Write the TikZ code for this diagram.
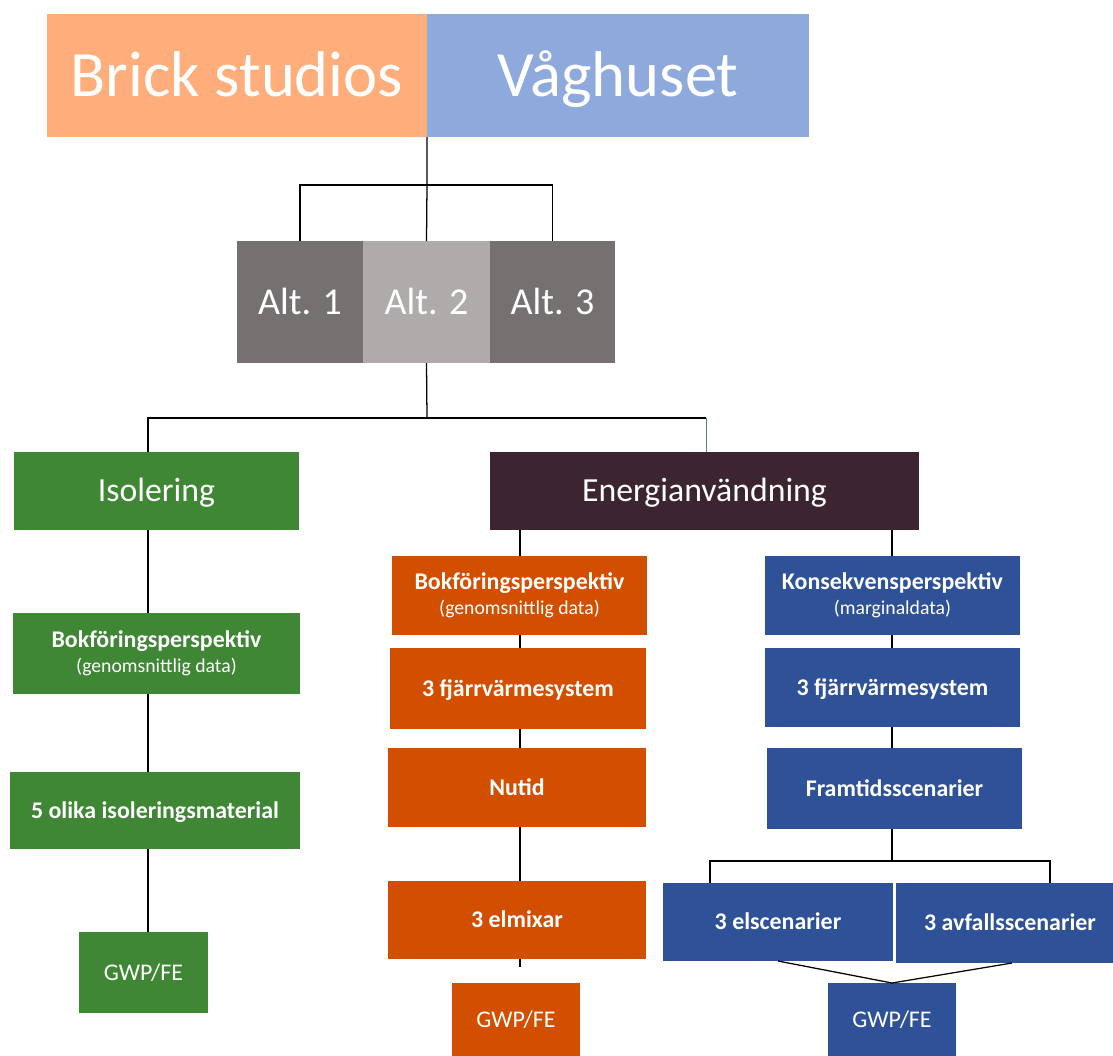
\documentclass[tikz,border=0pt]{standalone}
\usepackage{fontspec}
\setmainfont{Carlito}
\usetikzlibrary{calc}
\definecolor{brickorange}{HTML}{FFAE7B}
\definecolor{vagblue}{HTML}{8EA9DC}
\definecolor{altdark}{HTML}{767171}
\definecolor{altlight}{HTML}{AFABAB}
\definecolor{isogreen}{HTML}{3F8635}
\definecolor{energiplum}{HTML}{3D2431}
\definecolor{bokorange}{HTML}{D24F00}
\definecolor{konsblue}{HTML}{2F5197}
\tikzset{
  tile/.style={inner sep=0pt, outer sep=0pt, text=white, align=center},
  bigtile/.style={tile, text height=29.6pt, text depth=0pt, font=\fontsize{46}{50}\selectfont},
  alttile/.style={tile, text height=17.4pt, text depth=0pt, font=\fontsize{27}{30}\selectfont},
  headtile/.style={tile, text height=15.5pt, text depth=0pt, font=\fontsize{24}{28}\selectfont},
  twotile/.style={tile, font=\bfseries\fontsize{17}{20}\selectfont},
  steptile/.style={tile, text height=11pt, text depth=0pt, font=\bfseries\fontsize{17}{20}\selectfont},
  gwptile/.style={tile, text height=11pt, text depth=0pt, font=\fontsize{17}{20}\selectfont},
  link/.style={draw=black, line width=0.9pt},
}
% tile from pixel corners (x1,y1)-(x2,y2)
\newcommand{\tileat}[7]{%
  \pgfmathsetmacro{\cellw}{(#4-#2)*0.025}
  \pgfmathsetmacro{\cellh}{(#5-#3)*0.025}
  \node[#6, minimum width=\cellw cm, minimum height=\cellh cm] (#1)
    at ({(#2+#4)/2},{(#3+#5)/2}) {#7};
}
\newcommand{\subnote}[1]{\\[-2pt]{\mdseries\fontsize{14}{16}\selectfont #1}}

\begin{document}
\begin{tikzpicture}[x=0.025cm, y=-0.025cm]
  \useasboundingbox (0,0) rectangle (1113,1055);

  % Buildings
  \tileat{brick}{47}{14}{427}{137}{bigtile, fill=brickorange}{Brick studios}
  \tileat{vag}{427}{14}{809}{137}{bigtile, fill=vagblue}{Våghuset}

  % Alternatives
  \tileat{alt1}{237}{241}{363}{363}{alttile, fill=altdark}{Alt. 1}
  \tileat{alt2}{363}{241}{490}{363}{alttile, fill=altlight}{Alt. 2}
  \tileat{alt3}{490}{241}{615}{363}{alttile, fill=altdark}{Alt. 3}

  % Main branches
  \tileat{iso}{14}{452}{299}{530}{headtile, fill=isogreen}{Isolering}
  \tileat{energi}{490}{452}{919}{530}{headtile, fill=energiplum}{Energianvändning}

  % Isolering column
  \tileat{bokg}{13}{613}{300}{694}{twotile, fill=isogreen}{Bokföringsperspektiv\subnote{(genomsnittlig data)}}
  \tileat{matg}{10}{772}{300}{849}{steptile, fill=isogreen}{5 olika isoleringsmaterial}
  \tileat{gwpg}{79}{932}{208}{1013}{gwptile, fill=isogreen}{GWP/FE}

  % Bokföring column
  \tileat{boko}{392}{556}{647}{635}{twotile, fill=bokorange}{Bokföringsperspektiv\subnote{(genomsnittlig data)}}
  \tileat{fjvo}{390}{648}{646}{729}{steptile, fill=bokorange}{3 fjärrvärmesystem}
  \tileat{nutid}{388}{748}{646}{827}{steptile, fill=bokorange}{Nutid}
  \tileat{elmix}{388}{881}{646}{959}{steptile, fill=bokorange}{3 elmixar}
  \tileat{gwpo}{452}{983}{580}{1057}{gwptile, fill=bokorange}{GWP/FE}

  % Konsekvens column
  \tileat{kons}{765}{556}{1020}{635}{twotile, fill=konsblue}{Konsekvensperspektiv\subnote{(marginaldata)}}
  \tileat{fjvb}{765}{648}{1020}{727}{steptile, fill=konsblue}{3 fjärrvärmesystem}
  \tileat{framt}{767}{748}{1022}{829}{steptile, fill=konsblue}{Framtidsscenarier}
  \tileat{elsc}{663}{883}{893}{961}{steptile, fill=konsblue}{3 elscenarier}
  \tileat{avf}{896}{883}{1124}{963}{steptile, fill=konsblue}{3 avfallsscenarier}
  \tileat{gwpb}{828}{983}{956}{1057}{gwptile, fill=konsblue}{GWP/FE}

  % column lines
  \coordinate (gx) at (148,0);
  \coordinate (ox) at (520,0);
  \coordinate (bx) at (892,0);

  % top tree
  \coordinate (j1) at (427,185);
  \draw[link] (brick.south east) -- (j1);
  \draw[link] (alt1.north) |- (j1) -| (alt3.north);
  \draw[link] (j1) -- (alt2.north);

  \coordinate (j2) at (427,418);
  \coordinate (j2r) at (706,418);
  \draw[link] (alt2.south) -- (j2);
  \draw[link] (iso.north -| gx) |- (j2) -- (j2r);
  \draw[line width=0.6pt, vagblue!70!black] (j2r) -- (j2r |- energi.north);

  % Isolering
  \draw[link] (iso.south -| gx) -- (bokg.north -| gx);
  \draw[link] (bokg.south -| gx) -- (matg.north -| gx);
  \draw[link] (matg.south -| gx) -- (gwpg.north -| gx);

  % Bokföring
  \coordinate (ostub) at (520,967);
  \draw[link] (energi.south -| ox) -- (boko.north -| ox);
  \draw[link] (boko.south -| ox) -- (fjvo.north -| ox);
  \draw[link] (fjvo.south -| ox) -- (nutid.north -| ox);
  \draw[link] (nutid.south -| ox) -- (elmix.north -| ox);
  \draw[link] (elmix.south -| ox) -- (ostub);

  % Konsekvens
  \draw[link] (energi.south -| bx) -- (kons.north -| bx);
  \draw[link] (kons.south -| bx) -- (fjvb.north -| bx);
  \draw[link] (fjvb.south -| bx) -- (framt.north -| bx);
  \coordinate (j3) at (892,861);
  \coordinate (j3l) at (710,861);
  \coordinate (j3r) at (1050,861);
  \draw[link] (framt.south -| bx) -- (j3);
  \draw[link] (j3l |- elsc.north) -- (j3l) -- (j3r) -- (j3r |- avf.north);
  \draw[link] (elsc.south) -- (gwpb.north);
  \draw[link] ([xshift=0.05cm]avf.south) -- (gwpb.north);
\end{tikzpicture}
\end{document}
